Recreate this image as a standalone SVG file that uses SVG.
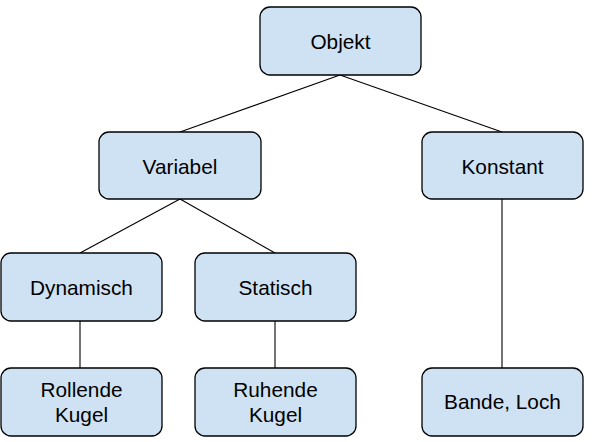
<svg xmlns="http://www.w3.org/2000/svg" width="593" height="442" viewBox="0 0 593 442">
<style>
.box{fill:#cfe2f3;stroke:#000;stroke-width:1.3}
.t{font-family:"Liberation Sans",Arial,sans-serif;font-size:20.8px;fill:#000;text-anchor:middle}
.c{stroke:#000;stroke-width:1.1;fill:none}
</style>
<rect width="593" height="442" fill="#fff"/>
<g id="connectors">
<line class="c" x1="340" y1="75" x2="180" y2="132"/>
<line class="c" x1="340" y1="75" x2="502" y2="132"/>
<line class="c" x1="180" y1="199" x2="80" y2="253"/>
<line class="c" x1="180" y1="199" x2="275" y2="253"/>
<line class="c" x1="80" y1="321" x2="80" y2="368"/>
<line class="c" x1="275" y1="321" x2="275" y2="368"/>
<line class="c" x1="502" y1="199" x2="502" y2="368"/>
</g>
<g id="objekt"><rect class="box" x="260" y="7" width="161" height="68" rx="10"/><text class="t" x="340.5" y="49">Objekt</text></g>
<g id="variabel"><rect class="box" x="99" y="132" width="162" height="67" rx="10"/><text class="t" x="180" y="173.5">Variabel</text></g>
<g id="konstant"><rect class="box" x="422" y="132" width="161" height="67" rx="10"/><text class="t" x="502.5" y="173.5">Konstant</text></g>
<g id="dynamisch"><rect class="box" x="1" y="253" width="161" height="68" rx="10"/><text class="t" x="81.5" y="295">Dynamisch</text></g>
<g id="statisch"><rect class="box" x="195" y="253" width="161" height="68" rx="10"/><text class="t" x="275.5" y="295">Statisch</text></g>
<g id="rollende"><rect class="box" x="1" y="368" width="161" height="68" rx="10"/><text class="t" x="81.5" y="396.5">Rollende</text><text class="t" x="81.5" y="421.5">Kugel</text></g>
<g id="ruhende"><rect class="box" x="195" y="368" width="161" height="68" rx="10"/><text class="t" x="275.5" y="396.5">Ruhende</text><text class="t" x="275.5" y="421.5">Kugel</text></g>
<g id="bande"><rect class="box" x="422" y="368" width="161" height="68" rx="10"/><text class="t" x="502.5" y="409">Bande, Loch</text></g>
</svg>
